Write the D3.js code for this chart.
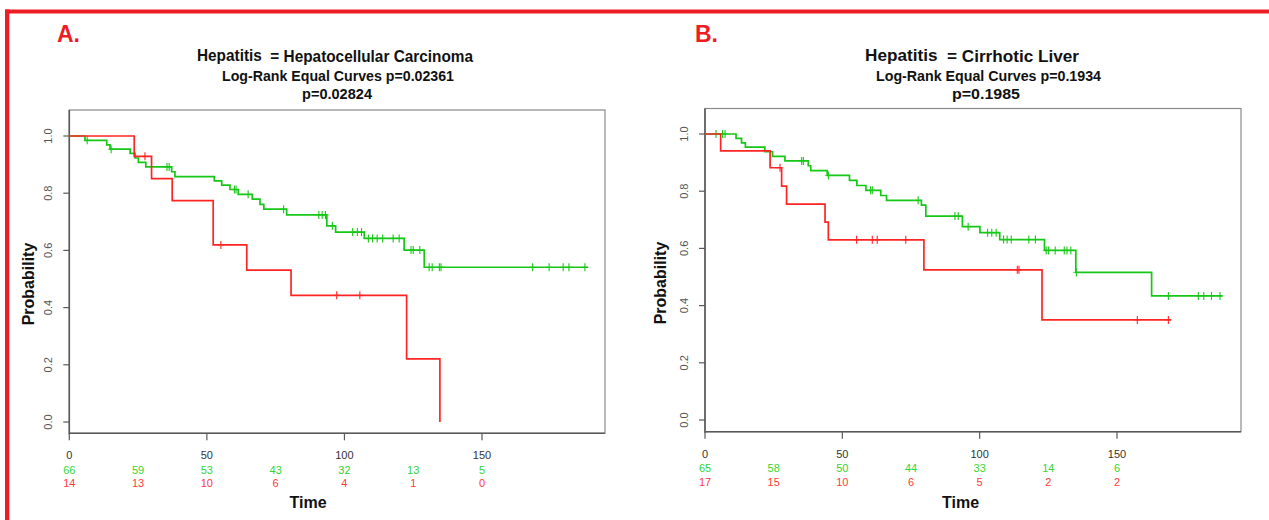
<!DOCTYPE html>
<html><head><meta charset="utf-8">
<script src="https://cdn.jsdelivr.net/npm/d3@7"></script>
<style>
body{margin:0;background:#fff}
svg{display:block}
text{font-family:"Liberation Sans",Arial,Helvetica,sans-serif}
</style>
</head><body>
<svg id="c" width="1269" height="520"></svg>
<script>
// ---------- data ----------
const xTicks = [0, 50, 100, 150];
const yTicks = [0, 0.2, 0.4, 0.6, 0.8, 1.0];
const riskTimes = [0, 25, 50, 75, 100, 125, 150];

// Panel A: Hepatocellular Carcinoma
const aGreenTime = [5.7, 13.6, 14.8, 22.1, 23.9, 25.1, 27.8, 37.2, 38.4, 52.7, 55.4, 58.4, 61.4, 66.5, 69.3, 70.7, 79.0, 93.6, 96.8, 107.2, 121.7, 129.0];
const aGreenSurv = [0.985, 0.969, 0.954, 0.939, 0.923, 0.908, 0.892, 0.875, 0.858, 0.843, 0.828, 0.813, 0.796, 0.779, 0.761, 0.744, 0.724, 0.686, 0.664, 0.642, 0.601, 0.541];
const aGreenCensor = [6.5, 15.2, 35.5, 36.3, 60.0, 60.6, 65.0, 77.9, 90.7, 91.9, 93.1, 95.6, 103.0, 104.7, 106.2, 108.7, 110.2, 111.9, 113.9, 117.7, 119.9, 124.2, 125.0, 127.4, 130.8, 131.9, 134.5, 135.1, 168.4, 174.4, 179.5, 181.6, 187.4];
const aGreenEnd = 188.6;
const aRedTime = [23.6, 29.9, 37.4, 52.3, 64.5, 80.6, 122.6, 134.7];
const aRedSurv = [0.929, 0.851, 0.774, 0.619, 0.531, 0.443, 0.221, 0.0];
const aRedCensor = [27.5, 55.1, 97.2, 105.6];
const aRedEnd = 134.7;
const aRiskGreen = [66, 59, 53, 43, 32, 13, 5];
const aRiskRed = [14, 13, 10, 6, 4, 1, 0];
const aTitle = ["Hepatitis", "= Hepatocellular Carcinoma"];
const aSub1 = "Log-Rank Equal Curves p=0.02361";
const aSub2 = "p=0.02824";

// Panel B: Cirrhotic Liver
const bGreenTime = [11.3, 13.3, 14.7, 21.8, 24.6, 29.1, 37.6, 38.5, 44.5, 52.6, 55.3, 58.6, 64.0, 66.1, 78.8, 80.4, 93.7, 100.1, 107.3, 123.6, 135.0, 162.6];
const bGreenSurv = [0.985, 0.969, 0.954, 0.938, 0.922, 0.906, 0.889, 0.872, 0.855, 0.838, 0.820, 0.803, 0.785, 0.768, 0.751, 0.713, 0.676, 0.655, 0.631, 0.593, 0.516, 0.434];
const bGreenCensor = [4.0, 6.4, 7.3, 35.2, 35.8, 44.9, 60.3, 60.9, 77.6, 91.0, 92.2, 95.8, 102.9, 104.4, 106.0, 108.7, 110.0, 111.5, 117.9, 120.3, 124.2, 125.1, 127.5, 130.8, 131.8, 133.2, 135.2, 168.7, 179.6, 181.6, 184.4, 187.5];
const bGreenEnd = 188.4;
const bRedTime = [5.7, 23.7, 27.9, 29.7, 43.7, 44.9, 79.7, 122.7];
const bRedSurv = [0.941, 0.882, 0.818, 0.755, 0.692, 0.630, 0.525, 0.350];
const bRedCensor = [27.3, 55.2, 60.9, 62.7, 73.1, 113.7, 114.3, 157.4, 168.7];
const bRedEnd = 169.6;
const bRiskGreen = [65, 58, 50, 44, 33, 14, 6];
const bRiskRed = [17, 15, 10, 6, 5, 2, 2];
const bTitle = ["Hepatitis", "= Cirrhotic Liver"];
const bSub1 = "Log-Rank Equal Curves p=0.1934";
const bSub2 = "p=0.1985";

// ---------- drawing ----------
const GREEN = "#16c816";
const RED = "#ff2424";
const svg = d3.select("#c");

// red frame
svg.append("rect").attr("x", 5).attr("y", 9.5).attr("width", 1264).attr("height", 4).attr("fill", "#ee1c25");
svg.append("rect").attr("x", 5).attr("y", 9.5).attr("width", 4.3).attr("height", 511).attr("fill", "#ee1c25");

function panel(cfg) {
  const g = svg.append("g");
  const x = d3.scaleLinear().domain([0, 150]).range([cfg.x0, cfg.x150]);
  const y = d3.scaleLinear().domain([0, 1]).range([cfg.y0, cfg.y1]);
  const L = cfg.x0, R = cfg.right, T = cfg.top, B = cfg.bottom;

  // letter
  g.append("text").attr("x", cfg.letterX).attr("y", 42).text(cfg.letter)
    .attr("font-size", 23).attr("font-weight", "bold").attr("fill", "#ee1c25");

  // titles
  const t1 = g.append("text").attr("x", cfg.t1x).attr("y", 62).attr("font-size", 16.5).attr("font-weight", "bold").attr("fill", "#111")
    .attr("textLength", cfg.t1w).attr("lengthAdjust", "spacingAndGlyphs").attr("xml:space", "preserve").style("white-space", "pre");
  t1.append("tspan").attr("dy", -1.5).text(cfg.title[0] + "  ");
  t1.append("tspan").attr("dy", 1.5).text(cfg.title[1]);
  g.append("text").attr("x", cfg.t2x).attr("y", 81).attr("font-size", 14).attr("font-weight", "bold").attr("fill", "#111")
    .attr("textLength", cfg.t2w).attr("lengthAdjust", "spacingAndGlyphs").text(cfg.sub1);
  g.append("text").attr("x", cfg.t3x).attr("y", 99).attr("font-size", 14).attr("font-weight", "bold").attr("fill", "#111")
    .attr("textLength", cfg.t3w).attr("lengthAdjust", "spacingAndGlyphs").text(cfg.sub2);

  // box
  g.append("rect").attr("x", L).attr("y", T).attr("width", R - L).attr("height", B - T)
    .attr("fill", "none").attr("stroke", "#8a8a8a").attr("stroke-width", 1.2);
  g.append("line").attr("x1", L).attr("x2", L).attr("y1", T).attr("y2", B + 1).attr("stroke", "#5a5a5a").attr("stroke-width", 1.6);
  g.append("line").attr("x1", L).attr("x2", R).attr("y1", B).attr("y2", B).attr("stroke", "#5a5a5a").attr("stroke-width", 1.6);

  // y ticks
  yTicks.forEach(v => {
    g.append("line").attr("x1", L - 6).attr("x2", L).attr("y1", y(v)).attr("y2", y(v)).attr("stroke", "#5a5a5a").attr("stroke-width", 1.2);
    g.append("text").attr("transform", `translate(${L - 21},${y(v)}) rotate(-90)`)
      .attr("text-anchor", "middle").attr("dominant-baseline", "central")
      .attr("font-size", 11).attr("fill", "#555").text(d3.format(".1f")(v));
  });
  // x ticks
  xTicks.forEach(v => {
    g.append("line").attr("x1", x(v)).attr("x2", x(v)).attr("y1", B).attr("y2", B + 7).attr("stroke", "#5a5a5a").attr("stroke-width", 1.2);
    g.append("text").attr("x", x(v)).attr("y", B + 26).attr("text-anchor", "middle")
      .attr("font-size", 11).attr("fill", "#333").text(v);
  });
  // at risk
  riskTimes.forEach((t, i) => {
    g.append("text").attr("x", x(t)).attr("y", B + 40.5).attr("text-anchor", "middle").attr("font-size", 11).attr("fill", "#33d633").text(cfg.riskG[i]);
    g.append("text").attr("x", x(t)).attr("y", B + 54).attr("text-anchor", "middle").attr("font-size", 11).attr("fill", "#ff3a3a").text(cfg.riskR[i]);
  });

  // axis titles
  g.append("text").attr("transform", `translate(${cfg.probX},${cfg.probY}) rotate(-90)`)
    .attr("text-anchor", "middle").attr("dominant-baseline", "central")
    .attr("font-size", 16).attr("font-weight", "bold").attr("fill", "#111").text("Probability");
  g.append("text").attr("x", cfg.timeX).attr("y", 508).attr("text-anchor", "middle")
    .attr("font-size", 16).attr("font-weight", "bold").attr("fill", "#111").text("Time");

  // curves
  function curve(times, surv, censor, end, color) {
    const pts = [{t: 0, s: 1}];
    times.forEach((t, i) => pts.push({t: t, s: surv[i]}));
    pts.push({t: end, s: surv[surv.length - 1]});
    const line = d3.line().x(d => x(d.t)).y(d => y(d.s)).curve(d3.curveStepAfter);
    g.append("path").attr("d", line(pts)).attr("fill", "none").attr("stroke", color).attr("stroke-width", 1.7);
    const sAt = t => { let s = 1; times.forEach((tt, i) => { if (tt <= t) s = surv[i]; }); return s; };
    censor.forEach(c => {
      const cx = x(c), cy = y(sAt(c));
      g.append("line").attr("x1", cx).attr("x2", cx).attr("y1", cy - 4).attr("y2", cy + 4).attr("stroke", color).attr("stroke-width", 1.1);
      g.append("line").attr("x1", cx - 3.5).attr("x2", cx + 3.5).attr("y1", cy).attr("y2", cy).attr("stroke", color).attr("stroke-width", 1.1).attr("opacity", 0.6);
    });
  }
  curve(cfg.gT, cfg.gS, cfg.gC, cfg.gE, GREEN);
  curve(cfg.rT, cfg.rS, cfg.rC, cfg.rE, RED);
}

panel({
  letter: "A.", letterX: 57,
  x0: 69.3, x150: 482, right: 605, top: 110, bottom: 433.3, y0: 422, y1: 136,
  title: aTitle, sub1: aSub1, sub2: aSub2,
  t1x: 197, t1w: 276, t2x: 222, t2w: 232, t3x: 302, t3w: 70,
  probX: 28, probY: 284, timeX: 308,
  gT: aGreenTime, gS: aGreenSurv, gC: aGreenCensor, gE: aGreenEnd,
  rT: aRedTime, rS: aRedSurv, rC: aRedCensor, rE: aRedEnd,
  riskG: aRiskGreen, riskR: aRiskRed
});
panel({
  letter: "B.", letterX: 695,
  x0: 705, x150: 1117, right: 1241, top: 108.5, bottom: 431.7, y0: 420, y1: 134,
  title: bTitle, sub1: bSub1, sub2: bSub2,
  t1x: 865, t1w: 214, t2x: 876, t2w: 225, t3x: 952, t3w: 68,
  probX: 660, probY: 283, timeX: 960.5,
  gT: bGreenTime, gS: bGreenSurv, gC: bGreenCensor, gE: bGreenEnd,
  rT: bRedTime, rS: bRedSurv, rC: bRedCensor, rE: bRedEnd,
  riskG: bRiskGreen, riskR: bRiskRed
});
</script>
</body></html>
